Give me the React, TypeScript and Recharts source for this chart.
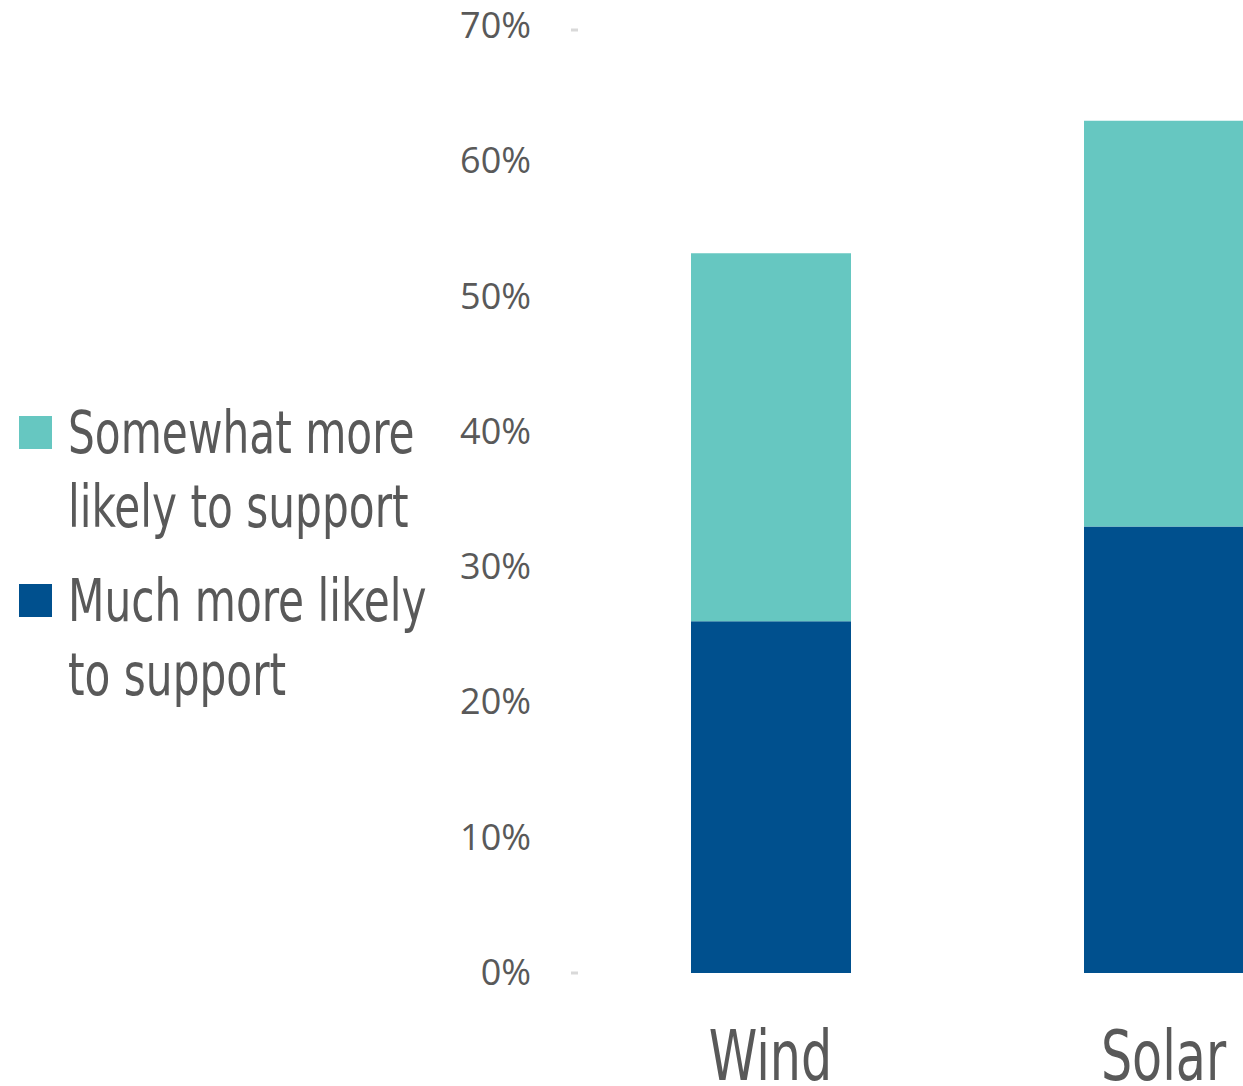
import React from "react";
import { Bar, BarChart, Legend, XAxis, YAxis } from "recharts";

const categories = ["Wind", "Solar"];
const muchMore = [0.26, 0.33];
const somewhatMore = [0.272, 0.3];
const yTicks = [0, 0.1, 0.2, 0.3, 0.4, 0.5, 0.6, 0.7];

const TEAL = "#66c7c1";
const NAVY = "#00508e";
const TEXT = "#595959";
const NARROW = "'DejaVu Sans Condensed', 'DejaVu Sans', sans-serif";

const data = categories.map((name, i) => ({
  name,
  much: muchMore[i],
  somewhat: somewhatMore[i],
}));

const legendItems = [
  { color: TEAL, lines: ["Somewhat more", "likely to support"] },
  { color: NAVY, lines: ["Much more likely", "to support"] },
];

function LegendBox() {
  return (
    <div style={{ fontFamily: NARROW, color: TEXT, fontSize: 58, lineHeight: "74px", textAlign: "left" }}>
      {legendItems.map((item) => (
        <div key={item.color} style={{ display: "flex", marginBottom: 20 }}>
          <div
            style={{
              width: 33,
              height: 33,
              background: item.color,
              marginTop: 20,
              marginRight: 16,
              flex: "none",
            }}
          />
          <div style={{ transform: "scaleX(0.81)", transformOrigin: "left" }}>
            {item.lines.map((l) => (
              <div key={l} style={{ whiteSpace: "nowrap" }}>{l}</div>
            ))}
          </div>
        </div>
      ))}
    </div>
  );
}

function XTick(props: any) {
  const { x, y, payload } = props;
  return (
    <text
      x={0}
      y={0}
      transform={`translate(${x},${y}) scale(0.78,1)`}
      dy={77}
      textAnchor="middle"
      fill={TEXT}
      fontSize={70}
      fontFamily={NARROW}
    >
      {payload.value}
    </text>
  );
}

function YTick(props: any) {
  const { x, y, payload } = props;
  const v = payload.value;
  return (
    <g>
      <text x={x} y={y} dy={12} textAnchor="end" fill={TEXT} fontSize={36} fontFamily="'Open Sans', sans-serif">
        {`${Math.round(v * 100)}%`}
      </text>
      {(v === 0 || v === 0.7) && (
        <line x1={x + 40} x2={x + 47} y1={y + (v === 0 ? 0 : 4)} y2={y + (v === 0 ? 0 : 4)} stroke="#d9d9d9" strokeWidth={3} />
      )}
    </g>
  );
}

export default function App() {
  return (
    <div
      style={{
        position: "absolute",
        left: 0,
        top: 0,
        width: 1243,
        height: 1086,
        overflow: "hidden",
        background: "#fff",
      }}
    >
      <BarChart
        width={1360}
        height={1086}
        data={data}
        margin={{ top: 26, right: 0, bottom: 0, left: 0 }}
        barSize={160}
      >
        <XAxis
          dataKey="name"
          axisLine={false}
          tickLine={false}
          height={113}
          tickMargin={24}
          tick={<XTick />}
        />
        <YAxis
          width={574}
          domain={[0, 0.7]}
          ticks={yTicks}
          axisLine={false}
          tickLine={false}
          tickSize={0}
          tickMargin={43}
          tick={<YTick />}
        />
        <Legend
          layout="horizontal"
          verticalAlign="middle"
          align="center"
          content={() => <LegendBox />}
          wrapperStyle={{ left: 19, top: 396, width: 440 }}
        />
        <Bar dataKey="much" stackId="a" fill={NAVY} isAnimationActive={false} name="Much more likely to support" />
        <Bar dataKey="somewhat" stackId="a" fill={TEAL} isAnimationActive={false} name="Somewhat more likely to support" />
      </BarChart>
    </div>
  );
}
